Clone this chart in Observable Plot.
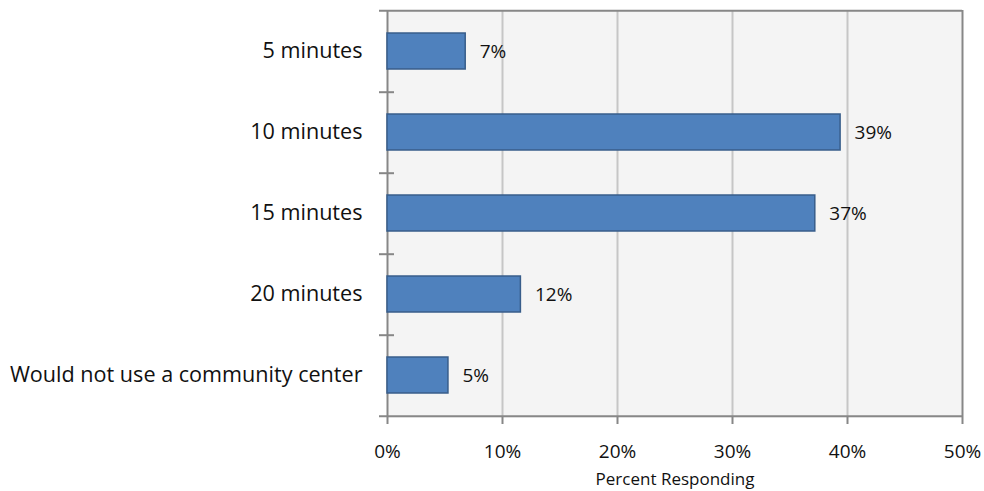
<!DOCTYPE html>
<html>
<head>
<meta charset="utf-8">
<script src="https://cdn.jsdelivr.net/npm/d3@7"></script>
<script src="https://cdn.jsdelivr.net/npm/@observablehq/plot@0.6"></script>
<style>
  html, body { margin: 0; padding: 0; background: #fff; }
</style>
</head>
<body>
<div id="chart"></div>
<script>
// Survey: how far people would travel to a community center
const categories = ["5 minutes", "10 minutes", "15 minutes", "20 minutes", "Would not use a community center"];
const percents = [6.8, 39.4, 37.2, 11.6, 5.3];
const xTicks = [0, 10, 20, 30, 40, 50];
const xTitle = "Percent Responding";

const data = categories.map((category, i) => ({category, value: percents[i]}));

const width = 984, height = 491;
const margin = {top: 10, right: 22, bottom: 74, left: 387};
const step = (height - margin.top - margin.bottom) / categories.length;

const frameColor = "#878787";
const gridColor = "#c6c6c6";
const textColor = "#111";

const chart = Plot.plot({
  width, height,
  marginTop: margin.top, marginRight: margin.right,
  marginBottom: margin.bottom, marginLeft: margin.left,
  style: {fontFamily: "'Open Sans', sans-serif", color: textColor, background: "#fff"},
  x: {domain: [0, 50], axis: null},
  y: {domain: categories, paddingInner: 0.55, paddingOuter: 0.275, axis: null},
  marks: [
    Plot.frame({fill: "#f4f4f4", stroke: null}),
    // vertical gridlines
    Plot.ruleX(xTicks.slice(1, -1), {stroke: gridColor, strokeWidth: 2}),
    // right border
    Plot.ruleX([xTicks[xTicks.length - 1]], {stroke: frameColor, strokeWidth: 2}),
    // top border, extending past the left axis like a tick
    Plot.ruleY([categories[0]], {y: d => d, dy: -step / 2, insetLeft: -8, stroke: frameColor, strokeWidth: 2}),
    // bottom axis line
    Plot.ruleY([categories[categories.length - 1]], {y: d => d, dy: step / 2, insetLeft: -8, stroke: frameColor, strokeWidth: 2}),
    // category boundary ticks on the left axis
    Plot.ruleY(categories.slice(0, -1), {y: d => d, x1: 0, x2: 0, dy: step / 2, insetLeft: -8, insetRight: -7, stroke: frameColor, strokeWidth: 2}),
    // left axis line
    Plot.ruleX([0], {stroke: frameColor, strokeWidth: 2}),
    // x axis ticks and labels
    Plot.axisX({
      ticks: xTicks, tickFormat: d => d + "%", tickSize: 7, tickPadding: 20,
      stroke: frameColor, strokeWidth: 2, fontSize: 19, label: null, fill: textColor
    }),
    Plot.text([xTitle], {frameAnchor: "bottom", lineAnchor: "middle", dy: 62.5, fontSize: 17, fill: textColor}),
    // category labels
    Plot.axisY({tickSize: 0, tickPadding: 25, fontSize: 21.6, label: null, fill: textColor}),
    // bars
    Plot.barX(data, {y: "category", x: "value", fill: "#4f81bd", stroke: "#385d8a", strokeWidth: 1.5}),
    // value labels
    Plot.text(data, {
      y: "category", x: "value", text: d => Math.round(d.value) + "%",
      dx: 14, textAnchor: "start", fontSize: 19, fill: textColor
    })
  ]
});

document.getElementById("chart").appendChild(chart);
</script>
</body>
</html>
